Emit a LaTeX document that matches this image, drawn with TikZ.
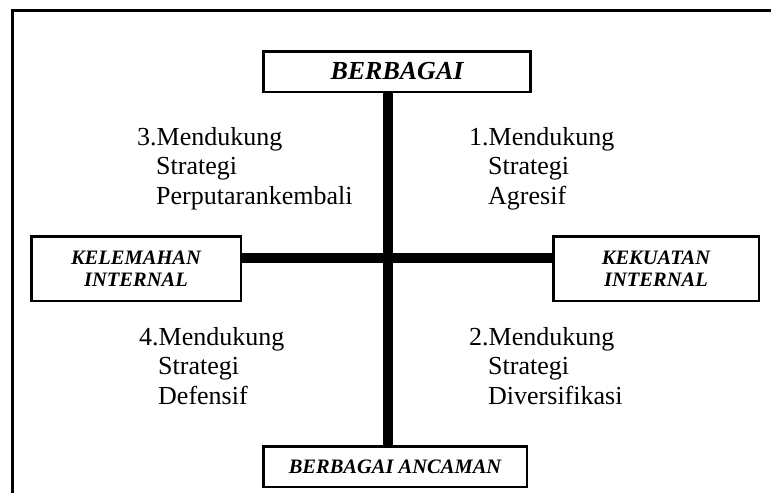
\documentclass[tikz,border=0pt]{standalone}
\usepackage{fontspec}
\setmainfont{Liberation Serif}
\newcommand{\quadind}{\hspace*{19pt}}

\begin{document}
\begin{tikzpicture}[
  x=1pt, y=-1pt,
  box/.style={draw, line width=2.5pt, align=center, inner sep=0pt, font=\fontsize{20.5}{22}\selectfont\bfseries\itshape},
  quad/.style={anchor=north west, align=left, inner sep=0pt, font=\fontsize{26}{29.5}\selectfont},
  bar/.style={line width=10pt},
  frame/.style={line width=3pt}
]
\useasboundingbox (0,0) rectangle (771,493);
% Outer frame (cut at right and bottom)
\draw[frame] (771,10) -| (12,493);
% Axis boxes
\node[box, minimum width=267, minimum height=40.5, font=\fontsize{26}{28}\selectfont\bfseries\itshape] (berbagai) at (397,71.5) {BERBAGAI};
\node[box, minimum width=263.5, minimum height=40.5] (ancaman) at (395,466.5) {BERBAGAI ANCAMAN};
\node[box, minimum width=209.5, minimum height=64.5] (kelemahan) at (136,268.5) {KELEMAHAN\\INTERNAL};
\node[box, minimum width=205.5, minimum height=64.5] (kekuatan) at (656,268.5) {KEKUATAN\\INTERNAL};
% Cross
\coordinate (pusat) at (388,258);
\draw[bar] (berbagai.south -| pusat) -- (ancaman.north -| pusat);
\draw[bar] (kelemahan.east |- pusat) -- (kekuatan.west |- pusat);
% Quadrants
\node[quad] (q3) at (137,127) {3.Mendukung\\\quadind Strategi\\\quadind Perputarankembali};
\node[quad] (q1) at (469,127) {1.Mendukung\\\quadind Strategi\\\quadind Agresif};
\node[quad] (q4) at (139,327) {4.Mendukung\\\quadind Strategi\\\quadind Defensif};
\node[quad] (q2) at (469,327) {2.Mendukung\\\quadind Strategi\\\quadind Diversifikasi};
\end{tikzpicture}
\end{document}
